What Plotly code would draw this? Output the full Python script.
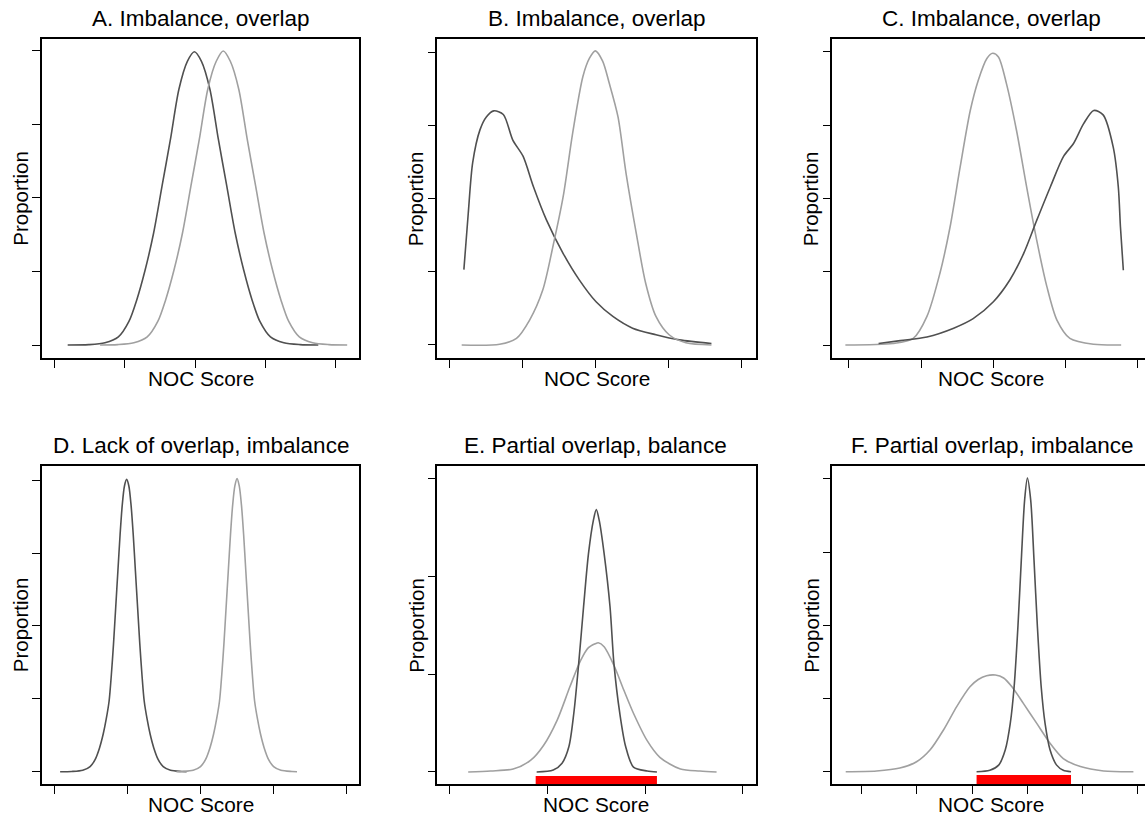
import plotly.graph_objects as go

# ---------------- data (tick units) ----------------
titles = ["A. Imbalance, overlap", "B. Imbalance, overlap", "C. Imbalance, overlap",
          "D. Lack of overlap, imbalance", "E. Partial overlap, balance", "F. Partial overlap, imbalance"]
x_label = "NOC Score"
y_label = "Proportion"

a_dark_x = [0.19,0.49,0.72,0.91,1.06,1.17,1.29,1.41,1.53,1.65,1.77,1.89,1.99,2.09,2.21,2.33,2.45,2.57,2.69,2.81,2.92,3.07,3.26,3.49,3.75]
a_dark_y = [0,0.005,0.03,0.11,0.32,0.61,1.02,1.52,2.16,2.80,3.48,3.86,3.99,3.86,3.48,2.80,2.16,1.52,1.02,0.61,0.32,0.11,0.03,0.005,0]
a_light_x = [0.65,0.90,1.13,1.32,1.47,1.58,1.70,1.82,1.94,2.06,2.18,2.30,2.40,2.50,2.62,2.74,2.86,2.98,3.10,3.22,3.33,3.48,3.67,3.90,4.16]
a_light_y = [0,0.005,0.03,0.11,0.32,0.61,1.02,1.52,2.16,2.80,3.48,3.86,4.0,3.86,3.48,2.80,2.16,1.52,1.02,0.61,0.32,0.11,0.03,0.005,0]

b_dark_x = [0.20,0.26,0.32,0.42,0.51,0.61,0.74,0.87,1.01,1.15,1.33,1.56,1.78,2.01,2.24,2.51,2.83,3.15,3.59]
b_dark_y = [1.03,1.80,2.49,2.94,3.12,3.20,3.15,2.80,2.58,2.17,1.71,1.25,0.89,0.59,0.39,0.23,0.14,0.07,0.02]
b_light_x = [0.17,0.69,0.92,1.10,1.28,1.42,1.56,1.69,1.83,1.92,2.00,2.10,2.19,2.31,2.42,2.56,2.69,2.83,3.01,3.24,3.59]
b_light_y = [0,0.01,0.09,0.34,0.75,1.35,2.03,2.90,3.67,3.92,4.02,3.88,3.58,3.12,2.35,1.53,0.84,0.39,0.14,0.03,0]

c_light_x = [-0.05,0.61,0.89,1.08,1.26,1.40,1.54,1.68,1.79,1.91,1.99,2.07,2.18,2.32,2.46,2.60,2.74,2.88,3.06,3.39,3.77]
c_light_y = [0,0.02,0.09,0.39,0.98,1.61,2.43,3.20,3.61,3.91,3.98,3.93,3.57,2.93,2.16,1.43,0.80,0.34,0.09,0.01,0]
c_dark_x = [0.41,0.71,1.08,1.45,1.72,2.00,2.23,2.42,2.60,2.79,2.97,3.11,3.25,3.39,3.52,3.66,3.73,3.76,3.80]
c_dark_y = [0.02,0.06,0.11,0.23,0.36,0.59,0.89,1.25,1.70,2.16,2.57,2.75,3.02,3.20,3.14,2.70,2.16,1.61,1.02]

d_dark_x = [0.08,0.24,0.39,0.49,0.56,0.62,0.67,0.71,0.75,0.78,0.81,0.84,0.87,0.90,0.93,0.96,0.99,
            1.02,1.05,1.08,1.11,1.14,1.17,1.20,1.23,1.27,1.31,1.36,1.42,1.49,1.59,1.74,1.81]
d_dark_y = [0,0.003,0.02,0.07,0.17,0.33,0.52,0.72,0.97,1.32,1.75,2.25,2.75,3.25,3.66,3.92,4.01,
            3.92,3.66,3.25,2.75,2.25,1.75,1.32,0.97,0.72,0.52,0.33,0.17,0.07,0.02,0.003,0]
d_light_x = [1.67,1.75,1.90,2.00,2.07,2.13,2.18,2.22,2.26,2.29,2.32,2.35,2.38,2.41,2.44,2.47,2.50,
             2.53,2.56,2.59,2.62,2.65,2.68,2.71,2.74,2.78,2.82,2.87,2.93,3.00,3.10,3.25,3.32]
d_light_y = [0,0.003,0.02,0.07,0.17,0.33,0.52,0.72,0.97,1.32,1.75,2.25,2.75,3.25,3.66,3.92,4.02,
             3.92,3.66,3.25,2.75,2.25,1.75,1.32,0.97,0.72,0.52,0.33,0.17,0.07,0.02,0.003,0]

e_dark_x = [0.89,1.06,1.15,1.22,1.27,1.32,1.37,1.42,1.47,1.50,1.53,1.58,1.64,1.68,1.74,1.80,1.88,2.02,2.12]
e_dark_y = [0,0.02,0.09,0.26,0.60,1.11,1.69,2.23,2.57,2.68,2.57,2.23,1.69,1.11,0.60,0.26,0.05,0.01,0]
e_light_x = [0.19,0.42,0.65,0.83,0.96,1.10,1.23,1.34,1.42,1.49,1.52,1.58,1.68,1.78,1.88,2.02,2.15,2.36,2.56,2.73]
e_light_y = [0,0.01,0.03,0.12,0.27,0.53,0.87,1.14,1.27,1.31,1.32,1.28,1.09,0.84,0.60,0.32,0.15,0.03,0.01,0]
e_bar = [0.88, 2.12]

f_dark_x = [2.08,2.32,2.48,2.60,2.69,2.76,2.83,2.89,2.95,3.00,3.06,3.12,3.18,3.25,3.32,3.41,3.53,3.65,3.79]
f_dark_y = [0,0.02,0.09,0.30,0.66,1.16,2.0,2.89,3.71,4.01,3.71,2.89,2.0,1.16,0.66,0.30,0.09,0.02,0]
f_light_x = [-0.29,0.27,0.69,1.00,1.24,1.48,1.72,1.96,2.11,2.26,2.42,2.57,2.72,2.93,3.17,3.41,3.65,3.96,4.38,4.92]
f_light_y = [0,0.01,0.05,0.14,0.30,0.57,0.89,1.16,1.26,1.31,1.32,1.28,1.16,0.93,0.66,0.39,0.18,0.07,0.01,0]
f_bar = [2.08, 3.79]

x_ticks = [[0,1,2,3,4],[0,1,2,3,4],[0,1,2,3,4],[0,1,2,3,4],[0,1,2,3],[0,1,2,3,4,5]]
y_ticks = [[0,1,2,3,4],[0,1,2,3,4],[0,1,2,3,4],[0,1,2,3,4],[0,1,2,3],[0,1,2,3,4]]

# ---------------- layout geometry ----------------
W, H = 1145, 817
DARK = "#505050"
LIGHT = "#a0a0a0"
FONT = "Liberation Sans, Arial, Helvetica, sans-serif"

col_px = [(41.7, 359.3), (437.3, 756.0), (832.3, 1145.0)]
row_px = [(38.7, 358.3), (465.7, 784.3)]
x_ranges = [[-0.179, 4.332], [-0.164, 4.20], [-0.231, 4.10],
            [-0.172, 4.172], [-0.126, 3.133], [-0.533, 5.13]]
y_ranges = [[-0.181, 4.167], [-0.182, 4.186], [-0.181, 4.179],
            [-0.173, 4.198], [-0.126, 3.129], [-0.172, 4.18]]
title_cx = [200.5, 596.5, 991.0, 200.5, 596.0, 992.0]
label_cx = [200.5, 596.7, 991.0, 200.5, 595.5, 991.0]

curves = [
    [(a_dark_x, a_dark_y, DARK), (a_light_x, a_light_y, LIGHT)],
    [(b_dark_x, b_dark_y, DARK), (b_light_x, b_light_y, LIGHT)],
    [(c_light_x, c_light_y, LIGHT), (c_dark_x, c_dark_y, DARK)],
    [(d_dark_x, d_dark_y, DARK), (d_light_x, d_light_y, LIGHT)],
    [(e_light_x, e_light_y, LIGHT), (e_dark_x, e_dark_y, DARK)],
    [(f_light_x, f_light_y, LIGHT), (f_dark_x, f_dark_y, DARK)],
]
bars = {4: e_bar, 5: f_bar}

fig = go.Figure()
layout = dict(width=W, height=H, margin=dict(l=0, r=0, t=0, b=0),
              paper_bgcolor="white", plot_bgcolor="white", showlegend=False,
              font=dict(family=FONT, color="black"))
annotations = []
shapes = []

for i in range(6):
    r, c = divmod(i, 3)
    sfx = "" if i == 0 else str(i + 1)
    xa, ya = "x" + sfx, "y" + sfx
    for (xs, ys, col) in curves[i]:
        fig.add_trace(go.Scatter(x=xs, y=ys, mode="lines", xaxis=xa, yaxis=ya,
                                 line=dict(color=col, width=1.6, shape="spline", smoothing=0.8),
                                 hoverinfo="skip"))
    x0p, x1p = col_px[c]
    y0p, y1p = row_px[r]
    dom_x = [x0p / W, min(x1p / W, 1.0)]
    dom_y = [1 - y1p / H, 1 - y0p / H]
    layout["xaxis" + sfx] = dict(domain=dom_x, range=x_ranges[i], anchor=ya,
                                 showgrid=False, zeroline=False, showline=True,
                                 linecolor="black", linewidth=1.5, mirror=True,
                                 ticks="outside", ticklen=8, tickwidth=1.2, tickcolor="black",
                                 tickvals=x_ticks[i], showticklabels=False, fixedrange=True)
    layout["yaxis" + sfx] = dict(domain=dom_y, range=y_ranges[i], anchor=xa,
                                 showgrid=False, zeroline=False, showline=True,
                                 linecolor="black", linewidth=1.5, mirror=(c != 2),
                                 ticks="outside", ticklen=8, tickwidth=1.2, tickcolor="black",
                                 tickvals=y_ticks[i], showticklabels=False, fixedrange=True)
    if i in bars:
        b0, b1 = bars[i]
        shapes.append(dict(type="rect", xref=xa, yref=ya, x0=b0, x1=b1,
                           y0=y_ranges[i][0], y1=-0.045 if i == 5 else -0.04,
                           fillcolor="#ff0000", line=dict(width=0), layer="above"))
    # title
    annotations.append(dict(text=titles[i], xref="paper", yref="paper",
                            x=title_cx[i] / W, y=1 - (y0p - 20.0) / H,
                            xanchor="center", yanchor="middle", showarrow=False,
                            font=dict(size=22.5, family=FONT, color="black")))
    # x label
    annotations.append(dict(text=x_label, xref="paper", yref="paper",
                            x=label_cx[i] / W, y=1 - (y1p + 19.8) / H,
                            xanchor="center", yanchor="middle", showarrow=False,
                            font=dict(size=20.8, family=FONT, color="black")))
    # y label
    annotations.append(dict(text=y_label, xref="paper", yref="paper",
                            x=(x0p - 21.5) / W, y=1 - ((y0p + y1p) / 2) / H,
                            xanchor="center", yanchor="middle", showarrow=False, textangle=-90,
                            font=dict(size=20.5, family=FONT, color="black")))

layout["annotations"] = annotations
layout["shapes"] = shapes
fig.update_layout(**layout)
fig.write_html("out.html", config={"displayModeBar": False},
               post_script="document.body.style.margin='0px';document.body.style.padding='0px';document.body.style.overflow='hidden';")
